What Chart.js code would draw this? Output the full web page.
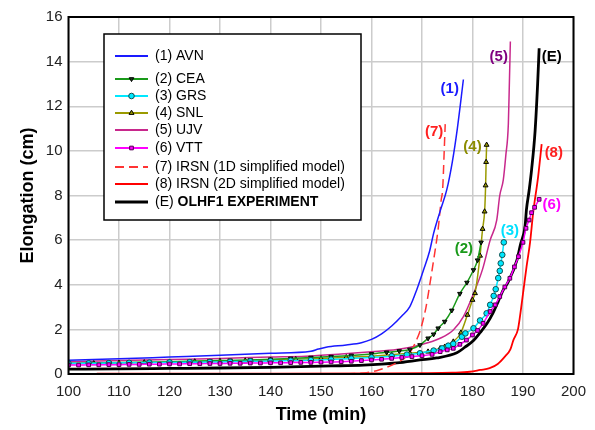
<!DOCTYPE html>
<html><head><meta charset="utf-8">
<script src="https://cdn.jsdelivr.net/npm/chart.js@4/dist/chart.umd.min.js"></script>
<style>html,body{margin:0;padding:0;background:#fff}#wrap{width:595px;height:430px}</style>
</head><body><div id="wrap"><canvas id="c" width="595" height="430"></canvas></div>
<script>
const xTicks = [100,110,120,130,140,150,160,170,180,190,200];
const yTicks = [0,2,4,6,8,10,12,14,16];
const labels = ["(1) AVN","(2) CEA","(3) GRS","(4) SNL","(5) UJV","(6) VTT","(7) IRSN (1D simplified model)","(8) IRSN (2D simplified model)","(E) OLHF1 EXPERIMENT"];
const curveTags = ["(1)","(2)","(3)","(4)","(5)","(6)","(7)","(8)","(E)"];
const tagT = [175.5,178.3,187.4,180.0,185.2,195.7,172.4,196.1,195.7];
const tagV = [12.8,5.6,6.4,10.2,14.2,7.6,10.85,9.9,14.2];

const avnT = [100,110,120,130,140,148,149.5,151,155,158,160,162,164,166,167.6,169,170.3,171.5,172.3,173.6,174.9,176,177,178.2];
const avnV = [0.62,0.68,0.76,0.84,0.93,1.02,1.12,1.2,1.3,1.4,1.55,1.8,2.15,2.6,3.02,3.8,4.66,5.5,6.3,7.3,8.25,9.5,11.0,13.2];
const ceaT = [100,104,108,112,116,120,124,128,132,136,140,144,148,152,156,160,163,165.5,167.6,169.6,171.2,172.3,173.2,174.5,175.9,177.5,178.9,180.2,181,181.7];
const ceaV = [0.48,0.49,0.5,0.52,0.53,0.55,0.57,0.59,0.61,0.63,0.66,0.7,0.74,0.78,0.83,0.9,0.97,1.03,1.1,1.3,1.6,1.78,2.05,2.35,2.85,3.6,4.1,4.66,5.1,5.9];
const grsT = [100,104,108,112,116,120,124,128,132,136,140,144,148,152,156,160,164,167,169.6,172.3,174,175.2,176.2,177.9,178.6,180.2,181.5,182.8,183.5,184.2,184.6,185.1,185.4,185.6,185.9,186.2];
const grsV = [0.47,0.48,0.49,0.5,0.51,0.52,0.53,0.54,0.55,0.57,0.58,0.6,0.62,0.65,0.69,0.74,0.8,0.87,0.93,1.05,1.15,1.27,1.35,1.67,1.82,2.05,2.4,2.72,3.1,3.5,3.8,4.3,4.62,4.96,5.34,5.9];
const snlT = [100,105,110,115,120,125,130,135,140,145,150,155,160,164,167.6,171.2,173.6,174.5,176.2,177.7,179,180,180.5,181.5,182,182.4,182.6,182.7,182.8];
const snlV = [0.46,0.48,0.5,0.52,0.54,0.56,0.58,0.6,0.63,0.66,0.7,0.75,0.8,0.86,0.93,1.0,1.15,1.22,1.45,1.85,2.65,3.32,3.62,5.3,6.5,7.28,8.45,9.5,10.27];
const ujvT = [100,110,120,130,140,147,154,160,165,169.6,173.6,176.2,178.2,180.2,182,183.5,184.8,185.4,186.1,186.6,187.1,187.3,187.5];
const ujvV = [0.55,0.6,0.65,0.7,0.76,0.8,0.9,1.0,1.1,1.3,1.6,1.97,2.57,3.6,4.7,6.0,6.9,8.0,8.7,9.8,11.2,13.0,14.9];
const vttT = [100,102,104,106,108,110,112,114,116,118,120,122,124,126,128,130,132,134,136,138,140,142,144,146,148,150,152,154,156,158,160,162,164,166,168,170,172,173.6,175,176.2,177.5,178.8,180,181,182.1,183.5,184.5,185.4,186.4,187.4,188.3,189.1,190,190.6,191.2,191.7,192.3,193.2];
const vttV = [0.40,0.40,0.41,0.41,0.42,0.42,0.43,0.43,0.44,0.44,0.45,0.45,0.46,0.46,0.47,0.47,0.48,0.48,0.49,0.49,0.5,0.5,0.51,0.52,0.52,0.53,0.54,0.55,0.57,0.6,0.63,0.66,0.7,0.74,0.78,0.82,0.88,1.0,1.08,1.15,1.33,1.52,1.75,1.95,2.27,2.8,3.1,3.47,3.9,4.29,4.8,5.26,5.9,6.53,6.9,7.23,7.47,7.83];
const irsn1T = [155,157,159,161,163,165,167,168,168.9,169.5,170.2,170.8,171.4,172.3,173.2,173.8,174.1,174.4,174.6];
const irsn1V = [0.0,0.02,0.06,0.15,0.3,0.5,0.8,1.1,1.52,1.85,2.4,3.0,3.8,5.1,6.5,7.8,8.3,10.0,11.2];
const irsn2T = [105.6,120,140,160,170,176,179.5,181.5,183.4,185,186.5,187.5,188.1,189,189.4,190.1,190.7,191.4,192,193,193.7];
const irsn2V = [0.02,0.02,0.02,0.03,0.04,0.06,0.1,0.18,0.26,0.45,0.8,1.1,1.52,2.0,2.57,3.77,4.8,5.9,7.2,8.85,10.3];
const expT = [100,110,120,130,140,146,152,158.4,165,169.6,172.9,176.9,178.5,180.2,181.5,182.9,184.1,185,186.1,187,188.8,189.5,190.4,190.7,191.2,191.7,192.4,192.9,193.2];
const expV = [0.22,0.23,0.25,0.27,0.3,0.33,0.36,0.4,0.5,0.63,0.72,0.95,1.2,1.5,1.85,2.27,2.75,3.2,3.77,4.1,5.1,5.8,6.6,7.4,8.2,9.15,10.9,13.0,14.6];

const pts = (T,V) => T.map((t,i)=>({x:t,y:V[i]}));
const FONT = "'Liberation Sans', Arial, sans-serif";

const styles = [
  {c:'#1a1aff', w:1.5},
  {c:'#1a9a1a', w:1.5, ps:'triangle', rot:180, pr:2.6, pbg:'#1a3a1a', pbc:'#000'},
  {c:'#00e8ff', w:1.5, ps:'circle', pr:2.8, pbg:'#00e8ff', pbc:'#105050'},
  {c:'#9a9a00', w:1.5, ps:'triangle', pr:2.8, pbg:'#9a9a00', pbc:'#000'},
  {c:'#c8288c', w:1.5},
  {c:'#ff00ff', w:1.5, ps:'rect', pr:2.6, pbg:'#ff00ff', pbc:'#500050'},
  {c:'#ff3333', w:1.5, dash:[9,5]},
  {c:'#ff0000', w:1.8},
  {c:'#000000', w:2.8}
];
const tagColors = ['#1a1aff','#1a9a1a','#00e0ff','#8c8c00','#800080','#ff00ff','#ff2020','#ff2020','#000000'];
const series = [pts(avnT,avnV),pts(ceaT,ceaV),pts(grsT,grsV),pts(snlT,snlV),pts(ujvT,ujvV),pts(vttT,vttV),pts(irsn1T,irsn1V),pts(irsn2T,irsn2V),pts(expT,expV)];
const drawOrder = [3,2,1,4,6,0,5,7,8];

const datasets = series.map((d,i)=>{
  const s = styles[i];
  return {
    label: labels[i], data: d, borderColor: s.c, backgroundColor: s.c,
    borderWidth: s.w, borderDash: s.dash || [],
    pointStyle: s.ps || 'circle', pointRadius: s.ps ? s.pr : 0,
    pointRotation: s.rot || 0,
    pointBackgroundColor: s.pbg || s.c, pointBorderColor: s.pbc || s.c, pointBorderWidth: 1,
    cubicInterpolationMode: 'monotone', fill: false, order: drawOrder[i]
  };
});

const framePlugin = {
  id: 'frame',
  afterDatasetsDraw(chart) {
    const {ctx, chartArea: a, scales} = chart;
    ctx.save();
    ctx.font = "bold 15px " + FONT;
    ctx.textAlign = 'center'; ctx.textBaseline = 'middle';
    curveTags.forEach((t,i)=>{
      ctx.fillStyle = tagColors[i];
      ctx.fillText(t, scales.x.getPixelForValue(tagT[i]), scales.y.getPixelForValue(tagV[i]));
    });
    const L = 104, T = 34, R = 361, B = 220;
    ctx.fillStyle = '#fff'; ctx.fillRect(L,T,R-L,B-T);
    ctx.strokeStyle = '#000'; ctx.lineWidth = 1.5; ctx.strokeRect(L,T,R-L,B-T);
    const rows = [56,79,96,113,130,148,167,184,202];
    chart.data.datasets.forEach((ds,i)=>{
      const y = rows[i];
      ctx.save();
      ctx.strokeStyle = ds.borderColor; ctx.lineWidth = Math.max(ds.borderWidth,1.8);
      if (ds.borderDash.length) ctx.setLineDash(ds.borderDash);
      ctx.beginPath(); ctx.moveTo(115,y); ctx.lineTo(148,y); ctx.stroke();
      ctx.restore();
      if (ds.pointRadius > 0) {
        ctx.save();
        ctx.fillStyle = ds.pointBackgroundColor; ctx.strokeStyle = ds.pointBorderColor; ctx.lineWidth = 1;
        Chart.helpers.drawPoint(ctx, {pointStyle: ds.pointStyle, radius: ds.pointRadius, rotation: ds.pointRotation, borderWidth:1}, 131.5, y);
        ctx.restore();
      }
      ctx.fillStyle = '#000'; ctx.textAlign = 'left'; ctx.textBaseline = 'middle';
      const txt = ds.label;
      if (i === 8) {
        ctx.font = "14px " + FONT;
        const pre = "(E) ";
        ctx.fillText(pre, 155, y);
        const w = ctx.measureText(pre).width;
        ctx.font = "bold 14px " + FONT;
        ctx.fillText(txt.slice(pre.length), 155 + w, y);
      } else {
        ctx.font = "14px " + FONT;
        ctx.fillText(txt, 155, y);
      }
    });
    ctx.strokeStyle = '#000'; ctx.lineWidth = 2;
    ctx.strokeRect(a.left, a.top, a.right - a.left, a.bottom - a.top);
    ctx.restore();
  }
};

new Chart(document.getElementById('c'), {
  type: 'line',
  data: { datasets },
  options: {
    responsive: false, animation: false,
    layout: { padding: { top: 17, right: 21.5, left: 0, bottom: 0 } },
    plugins: { legend: { display: false }, tooltip: { enabled: false } },
    scales: {
      x: {
        type: 'linear', min: 100, max: 200,
        afterBuildTicks: s => { s.ticks = xTicks.map(v=>({value:v})); },
        afterFit: s => { s.height = 56; },
        grid: { color: '#cccccc', lineWidth: 1.5, drawTicks: false },
        border: { display: false },
        ticks: { color: '#222', font: { family: FONT, size: 15 }, padding: 9, maxRotation: 0 },
        title: { display: true, text: 'Time (min)', color: '#000', font: { family: FONT, size: 18, weight: 'bold' }, padding: { bottom: 4, top: 0 } }
      },
      y: {
        type: 'linear', min: 0, max: 16,
        afterBuildTicks: s => { s.ticks = yTicks.map(v=>({value:v})); },
        afterFit: s => { s.width = 68.5; },
        grid: { color: '#cccccc', lineWidth: 1.5, drawTicks: false },
        border: { display: false },
        ticks: { color: '#222', font: { family: FONT, size: 15 }, padding: 6 },
        title: { display: true, text: 'Elongation (cm)', color: '#000', font: { family: FONT, size: 18, weight: 'bold' }, padding: { top: 17, bottom: 0 } }
      }
    }
  },
  plugins: [framePlugin]
});
</script></body></html>
